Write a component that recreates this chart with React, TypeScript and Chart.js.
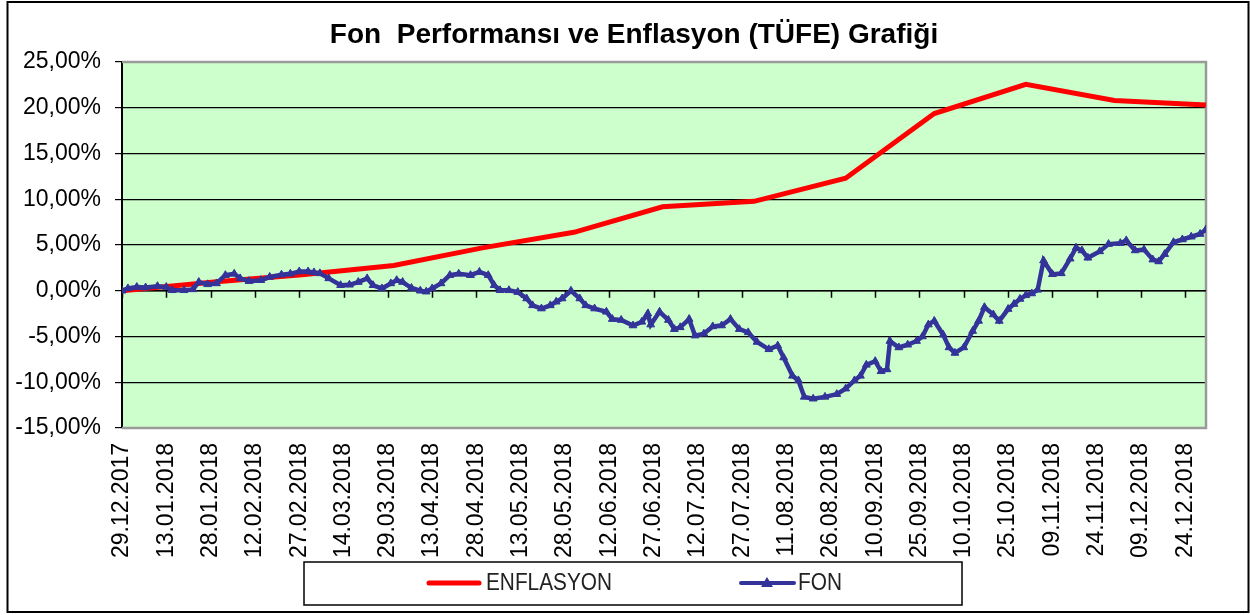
import React, { useEffect, useRef } from "react";
import { Chart, registerables } from "chart.js";

Chart.register(...registerables);

const TITLE = "Fon  Performansı ve Enflasyon (TÜFE) Grafiği";

const TICK_LABELS = [
  "29.12.2017", "13.01.2018", "28.01.2018", "12.02.2018", "27.02.2018",
  "14.03.2018", "29.03.2018", "13.04.2018", "28.04.2018", "13.05.2018",
  "28.05.2018", "12.06.2018", "27.06.2018", "12.07.2018", "27.07.2018",
  "11.08.2018", "26.08.2018", "10.09.2018", "25.09.2018", "10.10.2018",
  "25.10.2018", "09.11.2018", "24.11.2018", "09.12.2018", "24.12.2018",
];
const TICK_STEP_DAYS = 15;
const LAST_DAY = 367; // 31.12.2018, days since 29.12.2017

const Y_MIN = -15;
const Y_MAX = 25;
const Y_STEP = 5;

// ENFLASYON (cumulative TÜFE, %) at month ends, day offsets from 29.12.2017
const ENF_DAYS = [0, 33, 61, 92, 122, 153, 183, 214, 245, 275, 306, 336, 367];
const ENF_VALUES = [0, 1.02, 1.76, 2.77, 4.69, 6.39, 9.17, 9.77, 12.29, 19.37, 22.56, 20.8, 20.3];

// FON cumulative return (%)
const FON_DAYS = [
  0, 2, 5, 8, 12, 15, 17, 21, 24, 26, 29, 32, 35, 38, 40, 43, 47, 50, 54, 57,
  60, 63, 65, 67, 70, 74, 77, 80, 83, 85, 88, 91, 93, 95, 98, 101, 103, 105, 108, 111,
  114, 118, 121, 124, 126, 128, 131, 134, 137, 139, 142, 145, 147, 149, 152, 155, 157, 160, 164, 166,
  169, 173, 176, 178, 179, 182, 185, 187, 189, 192, 194, 197, 200, 203, 206, 209, 212, 215, 219, 222,
  224, 227, 229, 231, 234, 238, 242, 245, 248, 250, 252, 255, 257, 259, 260, 263, 266, 269, 271, 273,
  275, 278, 280, 282, 285, 288, 290, 292, 295, 297, 300, 302, 304, 306, 308, 310, 312, 315, 318, 321,
  323, 325, 327, 331, 334, 338, 340, 343, 346, 349, 351, 353, 356, 359, 362, 365, 367,
];
const FON_VALUES = [
  0, 0.25, 0.4, 0.35, 0.5, 0.4, 0.05, 0.05, 0.15, 0.95, 0.7, 0.8, 1.7, 1.85, 1.35, 1.05, 1.15, 1.5, 1.75, 1.85,
  2.1, 2.1, 2.0, 1.9, 1.35, 0.6, 0.65, 0.95, 1.35, 0.6, 0.25, 0.8, 1.15, 0.95, 0.3, 0.0, -0.1, 0.25, 0.8, 1.7,
  1.85, 1.7, 2.05, 1.7, 0.6, 0.05, 0.05, -0.15, -0.85, -1.6, -1.95, -1.6, -1.2, -0.85, 0.0, -0.85, -1.6, -1.95, -2.3, -3.1,
  -3.2, -3.8, -3.4, -2.5, -3.7, -2.3, -3.2, -4.2, -4.0, -3.1, -4.9, -4.7, -3.9, -3.8, -3.1, -4.2, -4.55, -5.6, -6.4, -6.0,
  -7.3, -9.3, -9.8, -11.6, -11.8, -11.6, -11.3, -10.7, -9.8, -9.3, -8.1, -7.7, -8.8, -8.6, -5.5, -6.2, -5.9, -5.5, -5.0, -3.7,
  -3.3, -4.8, -6.2, -6.8, -6.2, -4.4, -3.3, -1.8, -2.6, -3.3, -2.0, -1.45, -0.9, -0.5, -0.3, 0.1, 3.3, 1.8, 1.9, 3.5,
  4.7, 4.4, 3.6, 4.3, 5.1, 5.2, 5.5, 4.4, 4.5, 3.4, 3.2, 4.0, 5.3, 5.6, 5.9, 6.2, 6.7,
];

const SERIES_NAMES = ["ENFLASYON", "FON"];
const RED = "#FF0000";
const BLUE = "#333399";
const FONT = "'Liberation Sans', Arial, sans-serif";

const decorPlugin = {
  id: "decor",
  beforeDraw(chart: any) {
    const { ctx, chartArea: a, width, height } = chart;
    ctx.save();
    ctx.fillStyle = "#ffffff";
    ctx.fillRect(0, 0, width, height);
    ctx.fillStyle = "#CCFFCC";
    ctx.fillRect(a.left, a.top, a.right - a.left, a.bottom - a.top);
    ctx.strokeStyle = "#000";
    ctx.lineWidth = 2;
    ctx.strokeRect(7.5, 2, 1241, 610);
    ctx.fillStyle = "#000";
    ctx.font = `bold 28px ${FONT}`;
    ctx.textAlign = "center";
    ctx.textBaseline = "alphabetic";
    ctx.fillText(TITLE, 634, 43, 642);
    ctx.restore();
  },
  beforeDatasetsDraw(chart: any) {
    const { ctx, chartArea: a } = chart;
    const xs = chart.scales.x;
    const ys = chart.scales.y;
    const y0 = ys.getPixelForValue(0);
    ctx.save();
    ctx.strokeStyle = "#9a9a9a";
    ctx.lineWidth = 2.5;
    ctx.beginPath();
    ctx.moveTo(a.left, a.top);
    ctx.lineTo(a.right, a.top);
    ctx.lineTo(a.right, a.bottom);
    ctx.lineTo(a.left, a.bottom);
    ctx.stroke();
    ctx.strokeStyle = "#000";
    ctx.lineWidth = 1.5;
    ctx.beginPath();
    ctx.moveTo(a.left, y0);
    ctx.lineTo(a.right, y0);
    xs.ticks.forEach((t: any) => {
      const px = Math.round(xs.getPixelForValue(t.value)) + 0.5;
      ctx.moveTo(px, y0);
      ctx.lineTo(px, y0 + 7);
    });
    ctx.stroke();
    ctx.restore();
  },
  afterDraw(chart: any) {
    const { ctx } = chart;
    ctx.save();
    ctx.fillStyle = "#fff";
    ctx.fillRect(304, 562, 658, 43);
    ctx.strokeStyle = "#000";
    ctx.lineWidth = 1.5;
    ctx.strokeRect(304, 562, 658, 43);
    const ly = 583;
    ctx.lineCap = "round";
    ctx.strokeStyle = RED;
    ctx.lineWidth = 5;
    ctx.beginPath();
    ctx.moveTo(429, ly);
    ctx.lineTo(479, ly);
    ctx.stroke();
    ctx.strokeStyle = BLUE;
    ctx.lineWidth = 4;
    ctx.beginPath();
    ctx.moveTo(741, ly);
    ctx.lineTo(794, ly);
    ctx.stroke();
    ctx.fillStyle = BLUE;
    ctx.beginPath();
    ctx.moveTo(767, ly - 6);
    ctx.lineTo(773, ly + 4);
    ctx.lineTo(761, ly + 4);
    ctx.closePath();
    ctx.fill();
    ctx.fillStyle = "#222";
    ctx.font = `23px ${FONT}`;
    ctx.textAlign = "left";
    ctx.textBaseline = "middle";
    ctx.fillText(SERIES_NAMES[0], 486, ly + 1, 126);
    ctx.fillText(SERIES_NAMES[1], 798, ly + 1, 44);
    ctx.restore();
  },
};

export default function App() {
  const ref = useRef<HTMLCanvasElement | null>(null);
  useEffect(() => {
    if (!ref.current) return;
    const chart = new Chart(ref.current, {
      type: "line",
      data: {
        datasets: [
          {
            label: SERIES_NAMES[1],
            data: FON_DAYS.map((d, i) => ({ x: d, y: FON_VALUES[i] })),
            borderColor: BLUE,
            backgroundColor: BLUE,
            borderWidth: 4.5,
            pointStyle: "triangle",
            pointRadius: 4.5,
            pointBorderWidth: 1,
            pointBackgroundColor: BLUE,
            pointBorderColor: BLUE,
            tension: 0,
            order: 0,
          },
          {
            label: SERIES_NAMES[0],
            data: ENF_DAYS.map((d, i) => ({ x: d, y: ENF_VALUES[i] })),
            borderColor: RED,
            backgroundColor: RED,
            borderWidth: 5,
            pointRadius: 0,
            tension: 0,
            order: 1,
          },
        ],
      },
      plugins: [decorPlugin],
      options: {
        animation: false,
        responsive: false,
        devicePixelRatio: 1,
        layout: { padding: { left: 0, top: 62, right: 44, bottom: 0 } },
        plugins: {
          legend: { display: false },
          title: { display: false },
          tooltip: { enabled: false },
        },
        scales: {
          x: {
            type: "linear",
            min: 0,
            max: LAST_DAY,
            afterBuildTicks: (scale: any) => {
              scale.ticks = TICK_LABELS.map((_, i) => ({ value: i * TICK_STEP_DAYS }));
            },
            afterFit: (scale: any) => {
              scale.height = 187;
            },
            grid: { display: false, drawTicks: false },
            border: { display: false },
            ticks: {
              autoSkip: false,
              minRotation: 90,
              maxRotation: 90,
              padding: 15,
              color: "#000",
              font: { family: FONT, size: 23 },
              callback: (_v: any, i: number) => TICK_LABELS[i],
            },
          },
          y: {
            min: Y_MIN,
            max: Y_MAX,
            afterFit: (scale: any) => {
              scale.width = 122;
            },
            grid: {
              color: (c: any) =>
                c.tick && (c.tick.value === Y_MAX || c.tick.value === Y_MIN) ? "rgba(0,0,0,0)" : "#000",
              lineWidth: 1.2,
              tickColor: "#000",
              tickLength: 7,
            },
            border: { display: true, color: "#000", width: 2 },
            ticks: {
              stepSize: Y_STEP,
              padding: 14,
              color: "#000",
              font: { family: FONT, size: 23 },
              callback: (v: any) => Number(v).toFixed(2).replace(".", ",") + "%",
            },
          },
        },
      },
    });
    return () => chart.destroy();
  }, []);
  return (
    <div style={{ position: "absolute", left: 0, top: 0, width: 1250, height: 615 }}>
      <canvas ref={ref} width={1250} height={615} style={{ display: "block" }} />
    </div>
  );
}
